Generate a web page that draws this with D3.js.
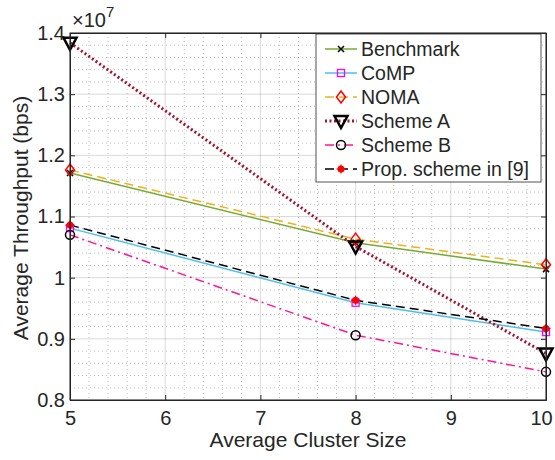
<!DOCTYPE html>
<html>
<head>
<meta charset="utf-8">
<script src="https://d3js.org/d3.v7.min.js"></script>
<style>
body { margin: 0; background: #fff; }
text { font-family: "Liberation Sans", Arial, Helvetica, sans-serif; fill: #262626; }
.grid line { stroke: #000; stroke-opacity: 0.15; }
.minor line { stroke: #000; stroke-opacity: 0.25; stroke-dasharray: 1,3; }
</style>
</head>
<body>
<div id="chart"></div>
<script>
// cluster sizes on the x axis
var clusterSize = [5, 8, 10];

// throughput in units of 1e7 bps
var benchmark = [1.171, 1.057, 1.014];
var comp      = [1.081, 0.959, 0.911];
var noma      = [1.176, 1.063, 1.021];
var schemeA   = [1.384, 1.051, 0.876];
var schemeB   = [1.070, 0.906, 0.846];
var propNine  = [1.086, 0.963, 0.917];

var xTicks = [5, 6, 7, 8, 9, 10];
var yTicks = [0.8, 0.9, 1.0, 1.1, 1.2, 1.3, 1.4];

var series = [
  {name: "Benchmark", values: benchmark, color: "#77ac30", dash: null, width: 1.5, marker: "x"},
  {name: "CoMP", values: comp, color: "#4dbeee", dash: null, width: 1.5, marker: "square"},
  {name: "NOMA", values: noma, color: "#edb120", dash: "9,5", width: 1.5, marker: "diamond"},
  {name: "Scheme A", values: schemeA, color: "#a2142f", dash: "2,2.5", width: 3, marker: "triangle"},
  {name: "Scheme B", values: schemeB, color: "#ff1493", dash: "9,4,2,4", width: 1.5, marker: "circle"},
  {name: "Prop. scheme in [9]", values: propNine, color: "#000", dash: "9,5", width: 1.5, marker: "star"}
];

var W = 555, H = 460;
var margin = {top: 33, right: 10, bottom: 60, left: 70};
var width = 546 - margin.left;
var height = 400 - margin.top;

var svg = d3.select("#chart").append("svg")
    .attr("width", W).attr("height", H)
  .append("g")
    .attr("transform", "translate(" + margin.left + "," + margin.top + ")");

var x = d3.scaleLinear().domain([5, 10]).range([0, width]);
var y = d3.scaleLinear().domain([0.8, 1.4]).range([height, 0]);

// minor grid
var xMinor = d3.range(5, 10.001, 0.2).filter(function(v) { return Math.abs(v - Math.round(v)) > 0.01; });
var yMinor = d3.range(0.8, 1.4001, 0.02).filter(function(v) { return Math.abs(v * 10 - Math.round(v * 10)) > 0.01; });

var minor = svg.append("g").attr("class", "minor");
minor.selectAll(".mx").data(xMinor).enter().append("line")
  .attr("x1", function(d) { return x(d); }).attr("x2", function(d) { return x(d); })
  .attr("y1", 0).attr("y2", height);
minor.selectAll(".my").data(yMinor).enter().append("line")
  .attr("y1", function(d) { return y(d); }).attr("y2", function(d) { return y(d); })
  .attr("x1", 0).attr("x2", width);

// major grid
var grid = svg.append("g").attr("class", "grid");
grid.selectAll(".gx").data(xTicks).enter().append("line")
  .attr("x1", function(d) { return x(d); }).attr("x2", function(d) { return x(d); })
  .attr("y1", 0).attr("y2", height);
grid.selectAll(".gy").data(yTicks).enter().append("line")
  .attr("y1", function(d) { return y(d); }).attr("y2", function(d) { return y(d); })
  .attr("x1", 0).attr("x2", width);

// series lines
var line = d3.line()
  .x(function(d, i) { return x(clusterSize[i]); })
  .y(function(d) { return y(d); });

series.forEach(function(s) {
  svg.append("path")
    .datum(s.values)
    .attr("fill", "none")
    .attr("stroke", s.color)
    .attr("stroke-width", s.width)
    .attr("stroke-dasharray", s.dash)
    .attr("d", line);
});

function drawMarker(g, type, cx, cy) {
  if (type === "x") {
    g.append("path").attr("d", "M" + (cx - 3) + "," + (cy - 3) + "L" + (cx + 3) + "," + (cy + 3) +
      "M" + (cx - 3) + "," + (cy + 3) + "L" + (cx + 3) + "," + (cy - 3))
      .attr("stroke", "#000").attr("stroke-width", 1.5);
  } else if (type === "square") {
    g.append("rect").attr("x", cx - 3.5).attr("y", cy - 3.5).attr("width", 7).attr("height", 7)
      .attr("fill", "none").attr("stroke", "#ff00ff").attr("stroke-width", 1.3);
  } else if (type === "diamond") {
    g.append("path").attr("d", "M" + cx + "," + (cy - 6) + "L" + (cx + 4.5) + "," + cy + "L" + cx + "," + (cy + 6) + "L" + (cx - 4.5) + "," + cy + "Z")
      .attr("fill", "none").attr("stroke", "#ff0000").attr("stroke-width", 1.5);
  } else if (type === "triangle") {
    g.append("path").attr("d", "M" + (cx - 6.5) + "," + (cy - 5) + "L" + (cx + 6.5) + "," + (cy - 5) + "L" + cx + "," + (cy + 7) + "Z")
      .attr("fill", "none").attr("stroke", "#000").attr("stroke-width", 2.5).attr("stroke-linejoin", "miter");
  } else if (type === "circle") {
    g.append("circle").attr("cx", cx).attr("cy", cy).attr("r", 4.5)
      .attr("fill", "none").attr("stroke", "#000").attr("stroke-width", 1.5);
  } else if (type === "star") {
    g.append("circle").attr("cx", cx).attr("cy", cy).attr("r", 3.5).attr("fill", "#ff0000");
    g.append("path").attr("d", "M" + cx + "," + (cy - 4.5) + "L" + cx + "," + (cy + 4.5) +
      "M" + (cx - 4.5) + "," + cy + "L" + (cx + 4.5) + "," + cy)
      .attr("stroke", "#ff0000").attr("stroke-width", 1.2);
  }
}

series.forEach(function(s) {
  var g = svg.append("g");
  s.values.forEach(function(v, i) { drawMarker(g, s.marker, x(clusterSize[i]), y(v)); });
});

// axes box
var axisColor = "#262626";
svg.append("rect").attr("x", 0).attr("y", 0).attr("width", width).attr("height", height)
  .attr("fill", "none").attr("stroke", axisColor).attr("stroke-width", 1);

var xAxis = svg.append("g").attr("transform", "translate(0," + height + ")")
  .call(d3.axisBottom(x).tickValues(xTicks).tickSizeInner(-5).tickSizeOuter(0).tickPadding(11).tickFormat(d3.format("d")));
var xAxisTop = svg.append("g")
  .call(d3.axisTop(x).tickValues(xTicks).tickSizeInner(-5).tickSizeOuter(0).tickFormat(""));
var yAxis = svg.append("g")
  .call(d3.axisLeft(y).tickValues(yTicks).tickSizeInner(-5).tickSizeOuter(0).tickPadding(5).tickFormat(function(d) { return d3.format("")(+d.toFixed(1)); }));
var yAxisRight = svg.append("g").attr("transform", "translate(" + width + ",0)")
  .call(d3.axisRight(y).tickValues(yTicks).tickSizeInner(-5).tickSizeOuter(0).tickFormat(""));

[xAxis, xAxisTop, yAxis, yAxisRight].forEach(function(a) {
  a.select(".domain").attr("stroke", axisColor);
  a.selectAll(".tick line").attr("stroke", axisColor);
  a.selectAll("text").style("font-size", "20px").attr("fill", "#262626")
    .style("font-family", "'Liberation Sans', Arial, sans-serif");
});
// last x label sits a little left so it stays on the page
xAxis.selectAll(".tick text").filter(function(d) { return d === 10; }).attr("dx", -5);

// exponent label
var expo = svg.append("text").attr("x", 2).attr("y", -6).style("font-size", "20px");
expo.append("tspan").text("\u00d710");
expo.append("tspan").attr("dy", -10).style("font-size", "15px").text("7");

// axis labels
svg.append("text")
  .attr("x", width / 2).attr("y", height + 47)
  .attr("text-anchor", "middle").style("font-size", "21px")
  .text("Average Cluster Size");

svg.append("text")
  .attr("transform", "translate(-42," + (218 - margin.top) + ") rotate(-90)")
  .attr("text-anchor", "middle").style("font-size", "21px")
  .text("Average Throughput (bps)");

// legend
var lg = svg.append("g").attr("transform", "translate(" + (316 - margin.left) + "," + (34 - margin.top) + ")");
lg.append("rect").attr("width", 225).attr("height", 148)
  .attr("fill", "#fff").attr("stroke", "#262626").attr("stroke-width", 0.8);

series.forEach(function(s, i) {
  var ly = 15 + i * 24;
  lg.append("line").attr("x1", 9).attr("x2", 41).attr("y1", ly).attr("y2", ly)
    .attr("stroke", s.color).attr("stroke-width", s.width).attr("stroke-dasharray", s.dash);
  drawMarker(lg, s.marker, 25, ly);
  lg.append("text").attr("x", 45).attr("y", ly + 7).style("font-size", "19.5px").text(s.name);
});
</script>
</body>
</html>
